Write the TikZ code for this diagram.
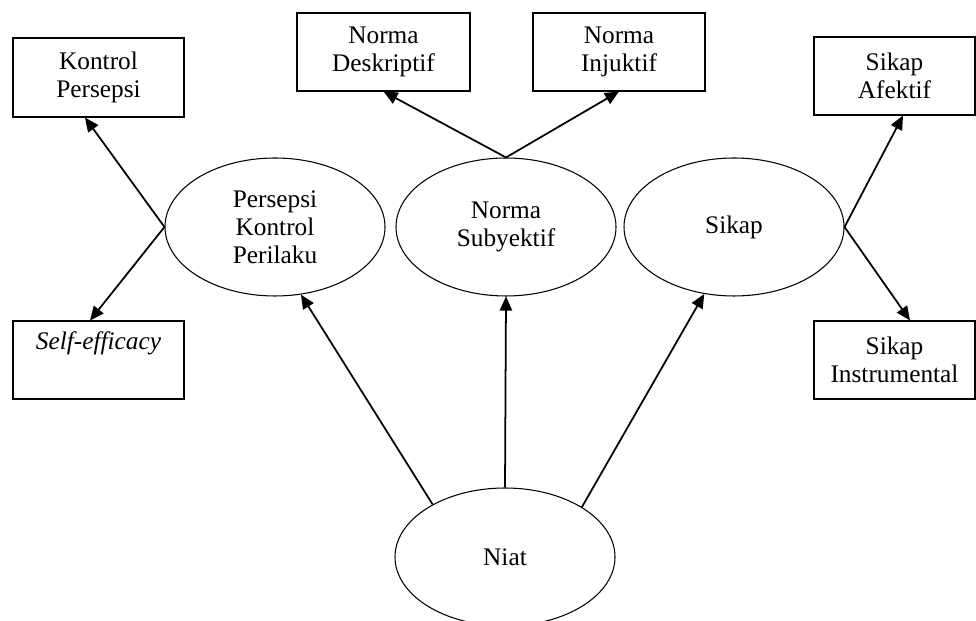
\documentclass[tikz,border=0pt]{standalone}
\usepackage{fontspec}
\setmainfont{Liberation Serif}
\usetikzlibrary{arrows.meta, shapes.geometric}

\begin{document}
\begin{tikzpicture}[
        txt/.style={font=\fontsize{14.4}{16}\selectfont, align=center, inner sep=0pt},
        kotak/.style={txt, draw, line width=0.6pt},
        elips/.style={txt, draw, ellipse, line width=0.6pt, minimum width=4.4cm, minimum height=2.76cm},
        panah/.style={line width=1pt, -{Triangle[length=8pt, width=7pt]}}
    ]
        \useasboundingbox (0, 0) rectangle (19.52, 12.42);
        \node[kotak, minimum width=3.42cm, minimum height=1.58cm] (kp) at (1.97, 10.87) {Kontrol\\Persepsi};
        \node[kotak, minimum width=3.42cm, minimum height=1.56cm] (se) at (1.97, 5.22) {\textit{Self-efficacy}\\[1pt]\strut};
        \node[kotak, minimum width=3.46cm, minimum height=1.56cm] (nd) at (7.67, 11.38) {Norma\\Deskriptif};
        \node[kotak, minimum width=3.44cm, minimum height=1.56cm] (ni) at (12.38, 11.38) {Norma\\Injuktif};
        \node[kotak, minimum width=3.22cm, minimum height=1.56cm] (sa) at (17.89, 10.9) {Sikap\\Afektif};
        \node[kotak, minimum width=3.22cm, minimum height=1.56cm] (si) at (17.89, 5.22) {Sikap\\Instrumental};
        \node[elips] (pkp) at (5.5, 7.88) {Persepsi\\Kontrol\\Perilaku};
        \node[elips] (ns) at (10.12, 7.88) {Norma\\Subyektif};
        \node[elips] (sk) at (14.68, 7.88) {Sikap};
        \node[elips] (niat) at (10.1, 1.28) {Niat};
        \draw[panah] (pkp.west) -- ([xshift=-0.27cm]kp.south);
        \draw[panah] (pkp.west) -- ([xshift=-0.17cm]se.north);
        \draw[panah] (ns.north) -- (nd.south);
        \draw[panah] (ns.north) -- (ni.south);
        \draw[panah] (sk.east) -- ([xshift=0.17cm]sa.south);
        \draw[panah] (sk.east) -- ([xshift=0.31cm]si.north);
        \draw[panah] (niat.144) -- (pkp.291);
        \draw[panah] (niat.north) -- (ns.south);
        \draw[panah] (niat.33) -- (sk.246);
    \end{tikzpicture}
\end{document}
